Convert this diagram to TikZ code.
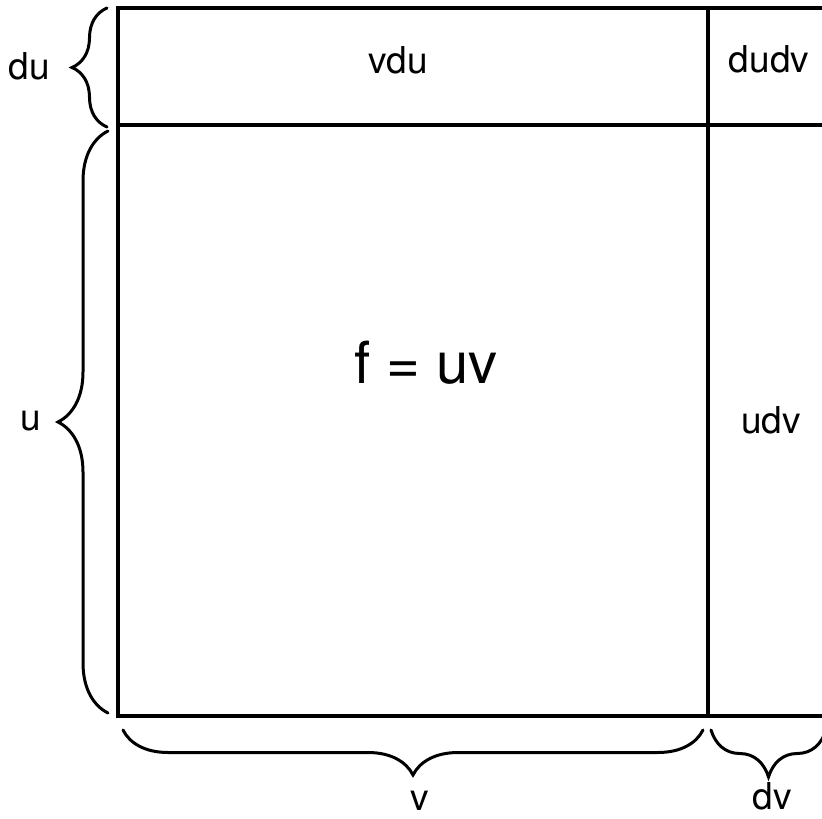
\documentclass[tikz,border=0pt]{standalone}
\usepackage{fontspec}
\setmainfont{TeX Gyre Heros}
\usepackage{xcolor}
\usetikzlibrary{decorations.pathreplacing,calc}
\definecolor{ink}{HTML}{000000}
\tikzset{
  cell/.style  ={draw=ink,line width=3.4pt,line join=miter},
  lbl/.style   ={inner sep=0pt,anchor=base,text=ink,
                 font=\fontsize{37}{44}\selectfont},
  biglbl/.style={inner sep=0pt,anchor=base,text=ink,
                 font=\fontsize{58}{68}\selectfont},
  curly/.style ={draw=ink,line width=3pt,line cap=round,decorate,
                 decoration={brace,amplitude=#1}}
}

\begin{document}
\begin{tikzpicture}[x=1pt,y=-1pt]
    \useasboundingbox (0,0) rectangle (822,819);
    % corners of the square
    \coordinate (nw) at (118,8);
    \coordinate (ne) at (830,8);
    \coordinate (sw) at (118,716);
    \coordinate (se) at (830,716);
    \coordinate (midw) at (118,125);
    \coordinate (mide) at (830,125);
    \coordinate (cutn) at (708,8);
    \coordinate (cuts) at (708,716);
    \draw[cell] (ne) -- (nw) -- (sw) -- (se);
    \draw[cell] (midw) -- (mide);
    \draw[cell] (cutn) -- (cuts);
    % braces
    \coordinate (dutop) at (107,8);
    \coordinate (dubot) at (107,127);
    \coordinate (utop)  at (108,131);
    \coordinate (ubot)  at (108,713);
    \coordinate (vleft) at (123,730);
    \coordinate (vright) at (703,730);
    \coordinate (dvleft) at (711,730);
    \coordinate (dvright) at (826,730);
    \draw[curly=35] (dubot) -- (dutop);
    \draw[curly=50] (ubot) -- (utop);
    \draw[curly=45] (vright) -- (vleft);
    \draw[curly=47] (dvright) -- (dvleft);
    % labels
    \node[lbl] (du)   at (29,79)   {du};
    \node[lbl] (vdu)  at (398,73)  {vdu};
    \node[lbl] (dudv) at (769,72)  {dudv};
    \node[biglbl] (f) at (426,383) {f = uv};
    \node[lbl] (u)    at (31,430)  {u};
    \node[lbl] (udv)  at (771,433) {udv};
    \node[lbl] (v)    at (420,810) {v};
    \node[lbl] (dv)   at (772,809) {dv};
  \end{tikzpicture}
\end{document}
